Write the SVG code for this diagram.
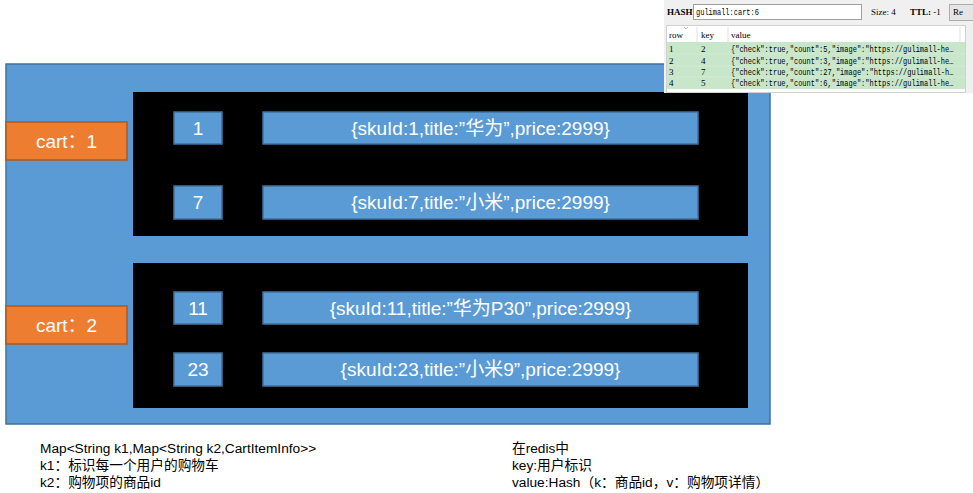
<svg xmlns="http://www.w3.org/2000/svg" width="973" height="493" viewBox="0 0 973 493">
<style>
.blue{fill:#5b9bd5;stroke:#41719c;stroke-width:1.5}
.blk{fill:#000}
.org{fill:#ed7d31;stroke:#ae5a21;stroke-width:1.5}
.t{font-family:"Liberation Sans","Noto Sans CJK SC",sans-serif;fill:#fff;font-size:19px;text-anchor:middle}
.n{font-family:"Liberation Sans","Noto Sans CJK SC",sans-serif;fill:#000;font-size:13.7px}
.m{font-family:"Liberation Mono","DejaVu Sans Mono",monospace;font-size:7px;fill:#000}
.s{font-family:"Liberation Serif","DejaVu Serif",serif;font-size:9px;fill:#000}
</style>
<rect width="973" height="493" fill="#fff"/>
<g id="outer"><rect class="blue" x="6" y="64" width="764" height="360"/></g>
<g id="cart1-map"><rect class="blk" x="133" y="92" width="615" height="144"/></g>
<g id="cart2-map"><rect class="blk" x="133" y="263" width="615" height="145"/></g>
<g id="cart1"><rect class="org" x="6" y="122" width="121" height="38"/><text class="t" x="66.5" y="148">cart：1</text></g>
<g id="cart2"><rect class="org" x="6" y="306" width="121" height="38"/><text class="t" x="66.5" y="332">cart：2</text></g>
<g id="k1"><rect class="blue" x="174" y="112" width="48" height="32"/><text class="t" x="198" y="135">1</text></g>
<g id="v1"><rect class="blue" x="263" y="112" width="435" height="32"/><text class="t" x="480.5" y="135">{skuId:1,title:”华为”,price:2999}</text></g>
<g id="k7"><rect class="blue" x="174" y="186" width="48" height="33"/><text class="t" x="198" y="209">7</text></g>
<g id="v7"><rect class="blue" x="263" y="186" width="435" height="33"/><text class="t" x="480.5" y="209">{skuId:7,title:”小米”,price:2999}</text></g>
<g id="k11"><rect class="blue" x="174" y="292" width="48" height="32"/><text class="t" x="198" y="315">11</text></g>
<g id="v11"><rect class="blue" x="263" y="292" width="435" height="32"/><text class="t" x="480.5" y="315">{skuId:11,title:”华为P30”,price:2999}</text></g>
<g id="k23"><rect class="blue" x="174" y="353" width="48" height="33"/><text class="t" x="198" y="376">23</text></g>
<g id="v23"><rect class="blue" x="263" y="353" width="435" height="33"/><text class="t" x="480.5" y="376">{skuId:23,title:”小米9”,price:2999}</text></g>
<g id="connectors"></g>
<g id="notes-left">
<text class="n" x="40" y="453">Map&lt;String k1,Map&lt;String k2,CartItemInfo&gt;&gt;</text>
<text class="n" x="40" y="470">k1：标识每一个用户的购物车</text>
<text class="n" x="40" y="487">k2：购物项的商品id</text>
</g>
<g id="notes-right">
<text class="n" x="512" y="453">在redis中</text>
<text class="n" x="512" y="470">key:用户标识</text>
<text class="n" x="512" y="487">value:Hash（k：商品id，v：购物项详情）</text>
</g>
<g id="screenshot">
<rect x="664" y="0" width="309" height="93" fill="#f0f0f0"/>
<text class="s" x="667" y="15" font-weight="bold" font-size="7px">HASH:</text>
<rect x="693.5" y="4.5" width="168" height="15" fill="#fff" stroke="#a0a0a0"/>
<text class="m" x="696" y="15" transform="translate(0,15) scale(1,1.3) translate(0,-15)">gulimall:cart:6</text>
<text class="s" x="871" y="15">Size: 4</text>
<text class="s" x="910" y="15"><tspan font-weight="bold">TTL:</tspan> -1</text>
<rect x="949.5" y="4.5" width="30" height="16" fill="#e5e5e5" stroke="#adadad"/>
<text class="s" x="953" y="15">Re</text>
<rect x="666.5" y="25.5" width="299" height="67" fill="#fff" stroke="#d0d0d0"/>
<polyline points="684,27 686,29 688,27" fill="none" stroke="#999" stroke-width="0.7"/>
<line x1="697" y1="27" x2="697" y2="42" stroke="#e0e0e0"/>
<line x1="728" y1="27" x2="728" y2="42" stroke="#e0e0e0"/>
<line x1="960" y1="27" x2="960" y2="42" stroke="#e0e0e0"/>
<text class="s" x="669" y="38">row</text>
<text class="s" x="701" y="38">key</text>
<text class="s" x="731" y="38">value</text>
<rect x="667" y="42" width="298" height="47" fill="#c8e6c9"/>
<line x1="667" y1="54" x2="965" y2="54" stroke="#d8eed8" stroke-width="0.6"/>
<line x1="667" y1="66" x2="965" y2="66" stroke="#d8eed8" stroke-width="0.6"/>
<line x1="667" y1="77" x2="965" y2="77" stroke="#d8eed8" stroke-width="0.6"/>
<text class="s" x="669" y="52">1</text><text class="s" x="701" y="52">2</text>
<text class="m" x="731" y="52" transform="translate(0,52) scale(1,1.3) translate(0,-52)">{"check":true,"count":5,"image":"https://gulimall-he…</text>
<text class="s" x="669" y="64">2</text><text class="s" x="701" y="64">4</text>
<text class="m" x="731" y="64" transform="translate(0,64) scale(1,1.3) translate(0,-64)">{"check":true,"count":3,"image":"https://gulimall-he…</text>
<text class="s" x="669" y="75">3</text><text class="s" x="701" y="75">7</text>
<text class="m" x="731" y="75" transform="translate(0,75) scale(1,1.3) translate(0,-75)">{"check":true,"count":27,"image":"https://gulimall-h…</text>
<text class="s" x="669" y="86">4</text><text class="s" x="701" y="86">5</text>
<text class="m" x="731" y="86" transform="translate(0,86) scale(1,1.3) translate(0,-86)">{"check":true,"count":6,"image":"https://gulimall-he…</text>
</g>
</svg>
